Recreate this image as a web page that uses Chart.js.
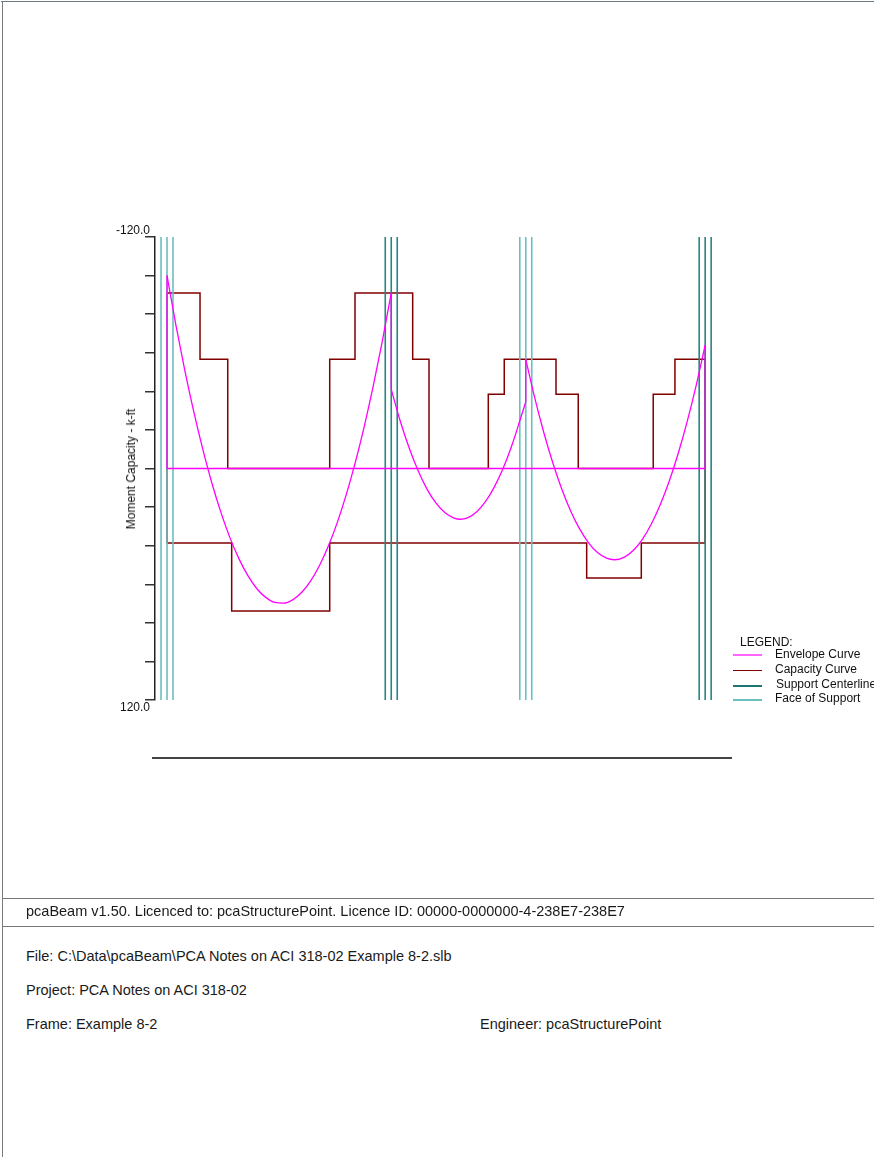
<!DOCTYPE html>
<html>
<head>
<meta charset="utf-8">
<script src="https://cdn.jsdelivr.net/npm/chart.js@4.4.1/dist/chart.umd.min.js"></script>
<style>
  body { margin: 0; background: #fff; font-family: "Liberation Sans", Arial, sans-serif; }
  #page { position: relative; width: 874px; height: 1157px; overflow: hidden; }
  #beamChart { position: absolute; left: 0; top: 0; }
  .frameTop { position: absolute; left: 1px; top: 1px; width: 873px; height: 1px; background: #6d7a86; }
  .frameLeft { position: absolute; left: 2px; top: 1px; width: 1px; height: 1156px; background: #7a7a7a; }
  .rule { position: absolute; left: 2px; width: 872px; height: 1px; background: #777; }
  .txt { position: absolute; font-size: 14.5px; line-height: 17px; color: #1a1a1a; white-space: nowrap; }
  .axisTitle { position: absolute; left: 131px; top: 469px; font-size: 12px; color: #111; white-space: nowrap;
               transform: translate(-50%, -50%) rotate(-90deg); }
  .lg { position: absolute; font-size: 12px; color: #111; white-space: nowrap; }
  .lgLine { position: absolute; left: 733px; width: 29px; height: 1px; }
  .baseLine { position: absolute; left: 152px; top: 757px; width: 580px; height: 2px; background: #444; }
</style>
</head>
<body>
<div id="page">
  <canvas id="beamChart" width="874" height="800"></canvas>

  <div class="axisTitle">Moment Capacity - k-ft</div>
  <div class="baseLine"></div>

  <div class="lg" style="left:740px; top:635px;">LEGEND:</div>
  <div class="lgLine" style="top:654px; height:2px; background:#ff66ff;"></div>
  <div class="lg" style="left:775px; top:647px;">Envelope Curve</div>
  <div class="lgLine" style="top:670px; background:#800000;"></div>
  <div class="lg" style="left:775px; top:662px;">Capacity Curve</div>
  <div class="lgLine" style="top:685px; height:2px; background:#1f7474;"></div>
  <div class="lg" style="left:776px; top:677px;">Support Centerline</div>
  <div class="lgLine" style="top:699px; height:2px; background:#6cbfbf;"></div>
  <div class="lg" style="left:775px; top:691px;">Face of Support</div>

  <div class="frameTop"></div>
  <div class="frameLeft"></div>
  <div class="rule" style="top:898px;"></div>
  <div class="rule" style="top:926px;"></div>
  <div class="txt" style="left:26px; top:903px;">pcaBeam v1.50. Licenced to: pcaStructurePoint. Licence ID: 00000-0000000-4-238E7-238E7</div>
  <div class="txt" style="left:26px; top:948px;">File: C:\Data\pcaBeam\PCA Notes on ACI 318-02 Example 8-2.slb</div>
  <div class="txt" style="left:26px; top:982px;">Project: PCA Notes on ACI 318-02</div>
  <div class="txt" style="left:26px; top:1016px;">Frame: Example 8-2</div>
  <div class="txt" style="left:480px; top:1016px;">Engineer: pcaStructurePoint</div>
</div>

<script>
// spans 25 ft, 15 ft, 20 ft -> support centerlines (ft)
const supportX = [0, 25, 40, 60];
const faceOffset = 0.667; // 16 in column, half width in ft
const supportColors = ['#6cbfbf', '#2a8484', '#6cbfbf', '#2a8484'];

// y axis range (k-ft), negative moment on top
const yMin = -120, yMax = 120;

// capacity curve (step line), ft / k-ft
const capX = [0, 0, 3.68, 3.68, 6.77, 6.77, 18.14, 18.14, 20.96, 20.96, 27.39, 27.39, 29.21, 29.21,
              35.82, 35.82, 37.6, 37.6, 43.37, 43.37, 45.85, 45.85, 54.21, 54.21, 56.63, 56.63, 60, 60,
              52.88, 52.88, 46.79, 46.79, 18.14, 18.14, 7.21, 7.21, 0];
const capY = [38.6, -91, -91, -56.6, -56.6, 0, 0, -56.6, -56.6, -91, -91, -56.6, -56.6, 0,
              0, -38.5, -38.5, -56.6, -56.6, -38.5, -38.5, 0, 0, -38.5, -38.5, -56.6, -56.6, 38.6,
              38.6, 56.8, 56.8, 38.6, 38.6, 73.9, 73.9, 38.6, 38.6];

// envelope curve, per span
const span1X = [0, 1, 2, 3, 4, 5, 6, 7, 8, 9, 10, 11, 12, 13, 14, 15, 16, 17, 18, 19, 20, 21, 22, 23, 24, 25];
const span1Y = [-100, -74.1, -50.5, -29.1, -9.8, 7.5, 22.6, 35.7, 46.6, 55.4, 62.2, 66.8, 69.4, 69.8, 68.1,
                64.3, 58.4, 50.3, 40.1, 27.8, 13.3, -3.3, -22, -42.9, -65.9, -91];
const span2X = [25, 26, 27, 28, 29, 30, 31, 32, 32.7, 33.5, 34.5, 35.5, 36.5, 37.5, 38.5, 39.3, 40];
const span2Y = [-41, -24.6, -10.6, 1.2, 10.8, 18, 23, 25.7, 26.3, 25.6, 22.5, 17.2, 9.5, -0.4, -12.7, -24.2, -34.6];
const span3X = [40, 41, 42, 43, 44, 45, 46, 47, 48, 49, 49.9, 51, 52, 53, 54, 55, 56, 57, 58, 59, 60];
const span3Y = [-56.6, -36.6, -18.8, -3.1, 10.5, 22, 31.3, 38.5, 43.6, 46.5, 47.3, 45.9, 42.4, 36.7, 28.8,
                18.7, 6.5, -7.9, -24.4, -43.1, -64];
// envelope jumps at supports and the zero line
const linkX = [0, 0, null, 25, 25, null, 40, 40, null, 60, 60, null, 0, 60];
const linkY = [0, -100, null, -91, -41, null, -34.6, -56.6, null, -64, 0, null, 0, 0];

function pts(xs, ys) {
    return xs.map((x, i) => (x === null ? { x: NaN, y: null } : { x: x, y: ys[i] }));
}

function supportPts(s) {
    const out = [];
    [s - faceOffset, s, s + faceOffset].forEach(x => {
        out.push({ x: x, y: yMin }, { x: x, y: yMax }, { x: x, y: null });
    });
    return out;
}

const datasets = [];

datasets.push({ label: 'Capacity Curve', data: pts(capX, capY), borderColor: '#800000', borderWidth: 1.5, order: 3 });

supportX.forEach((s, i) => {
    datasets.push({ label: 'Support ' + (i + 1), data: supportPts(s), borderColor: supportColors[i], borderWidth: 1.6, order: 2 });
});

[[span1X, span1Y], [span2X, span2Y], [span3X, span3Y]].forEach(([xs, ys], i) => {
    datasets.push({ label: 'Envelope ' + (i + 1), data: pts(xs, ys), borderColor: '#ff00ff', borderWidth: 1.3,
                    cubicInterpolationMode: 'monotone', order: 1 });
});
datasets.push({ label: 'Envelope links', data: pts(linkX, linkY), borderColor: '#ff00ff', borderWidth: 1.3, order: 1 });

// only end labels on the y axis, set a bit off the tick like the original
const endLabels = {
    id: 'endLabels',
    afterDraw(chart) {
        const ctx = chart.ctx;
        const y = chart.scales.y;
        ctx.save();
        ctx.font = '12px "Liberation Sans", Arial, sans-serif';
        ctx.fillStyle = '#111';
        ctx.textAlign = 'right';
        ctx.textBaseline = 'middle';
        ctx.fillText(yMin.toFixed(1), 150, y.getPixelForValue(yMin) - 6);
        ctx.fillText(yMax.toFixed(1), 150, y.getPixelForValue(yMax) + 8);
        ctx.restore();
    }
};

new Chart(document.getElementById('beamChart'), {
    type: 'line',
    data: { datasets: datasets },
    options: {
        responsive: false,
        animation: false,
        spanGaps: false,
        elements: { point: { radius: 0 }, line: { tension: 0 } },
        layout: { padding: { left: 145, top: 237, right: 150, bottom: 100 } },
        plugins: { legend: { display: false }, tooltip: { enabled: false } },
        scales: {
            x: { type: 'linear', min: -1.34, max: 62.1, display: false },
            y: {
                type: 'linear', min: yMin, max: yMax, reverse: true,
                afterFit: s => { s.width = 10; },
                ticks: { display: false, stepSize: 20 },
                grid: { drawOnChartArea: false, tickLength: 10, color: '#333', lineWidth: 1.5 },
                border: { color: '#222', width: 1.5 }
            }
        }
    },
    plugins: [endLabels]
});
</script>
</body>
</html>
